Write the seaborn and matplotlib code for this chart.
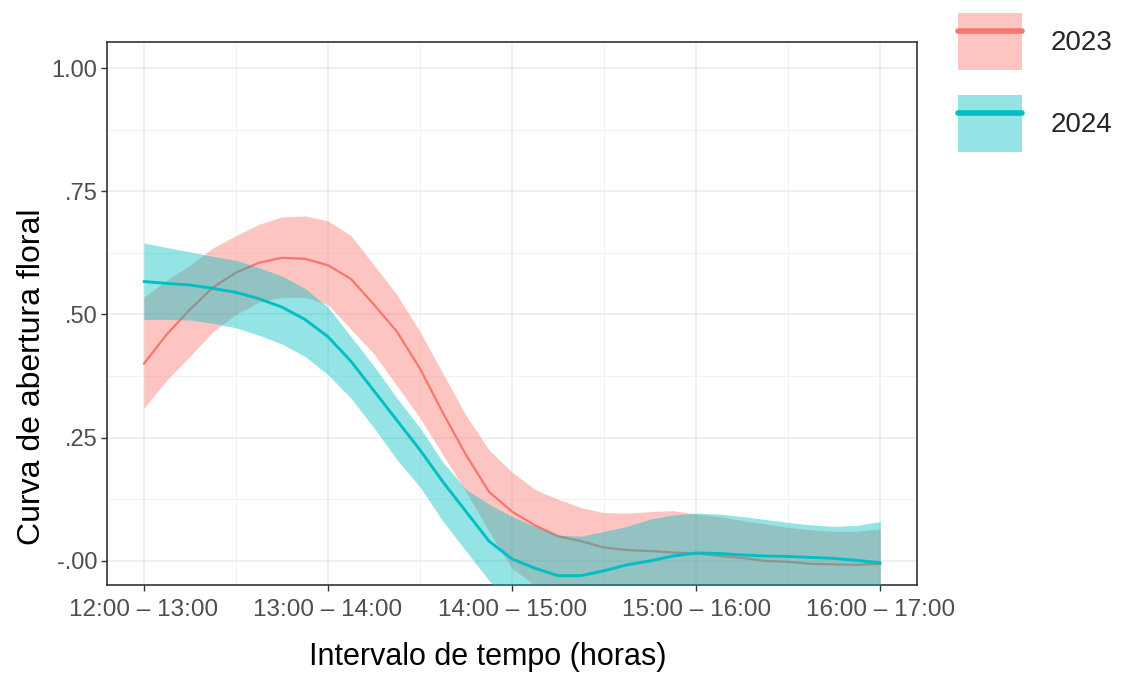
import matplotlib
matplotlib.use("Agg")
import matplotlib.pyplot as plt
import seaborn as sns
import pandas as pd
from matplotlib.patches import Patch
from matplotlib.lines import Line2D

# interval labels and positions along the time axis
intervals = ["12:00 – 13:00", "13:00 – 14:00", "14:00 – 15:00", "15:00 – 16:00", "16:00 – 17:00"]
x_pos = [1.0, 1.125, 1.25, 1.375, 1.5, 1.625, 1.75, 1.875,
         2.0, 2.125, 2.25, 2.375, 2.5, 2.625, 2.75, 2.875,
         3.0, 3.125, 3.25, 3.375, 3.5, 3.625, 3.75, 3.875,
         4.0, 4.125, 4.25, 4.375, 4.5, 4.625, 4.75, 4.875, 5.0]

# 2023 smooth fit and confidence band
fit_2023 = [0.40, 0.46, 0.51, 0.555, 0.585, 0.605, 0.615, 0.613,
            0.60, 0.572, 0.52, 0.465, 0.39, 0.30, 0.215, 0.14,
            0.10, 0.072, 0.05, 0.04, 0.027, 0.022, 0.02, 0.017,
            0.015, 0.01, 0.006, 0.0, -0.002, -0.006, -0.007, -0.008, -0.006]
lo_2023 = [0.31, 0.367, 0.415, 0.465, 0.50, 0.525, 0.535, 0.535,
           0.52, 0.47, 0.42, 0.355, 0.29, 0.215, 0.14, 0.06,
           -0.015, -0.05, -0.08, -0.10, -0.10, -0.10, -0.10, -0.10,
           -0.10, -0.10, -0.10, -0.10, -0.10, -0.10, -0.10, -0.10, -0.10]
hi_2023 = [0.535, 0.57, 0.60, 0.635, 0.66, 0.683, 0.698, 0.70,
           0.69, 0.66, 0.60, 0.54, 0.465, 0.38, 0.295, 0.225,
           0.18, 0.145, 0.125, 0.108, 0.098, 0.097, 0.10, 0.102,
           0.095, 0.09, 0.082, 0.075, 0.068, 0.063, 0.06, 0.06, 0.065]

# 2024 smooth fit and confidence band
fit_2024 = [0.567, 0.563, 0.56, 0.553, 0.545, 0.532, 0.515, 0.49,
            0.455, 0.405, 0.345, 0.285, 0.225, 0.16, 0.10, 0.04,
            0.004, -0.015, -0.03, -0.03, -0.02, -0.008, 0.0, 0.01,
            0.016, 0.015, 0.012, 0.01, 0.009, 0.007, 0.005, 0.001, -0.004]
lo_2024 = [0.49, 0.49, 0.489, 0.482, 0.473, 0.458, 0.44, 0.415,
           0.378, 0.33, 0.27, 0.205, 0.15, 0.08, 0.02, -0.04,
           -0.09, -0.12, -0.12, -0.12, -0.12, -0.12, -0.12, -0.12,
           -0.12, -0.12, -0.12, -0.12, -0.12, -0.12, -0.12, -0.12, -0.12]
hi_2024 = [0.645, 0.636, 0.627, 0.618, 0.61, 0.595, 0.578, 0.553,
           0.515, 0.455, 0.395, 0.33, 0.27, 0.20, 0.145, 0.115,
           0.09, 0.07, 0.052, 0.05, 0.06, 0.07, 0.085, 0.093,
           0.097, 0.095, 0.09, 0.084, 0.078, 0.073, 0.07, 0.072, 0.08]

years = ["2023", "2024"]
colors = ["#F8766D", "#00BFC4"]

sns.set_theme(style="white")
plt.rcParams['font.family'] = ['Liberation Sans', 'DejaVu Sans']

fig = plt.figure(figsize=(11.21, 6.84), dpi=100)
ax = fig.add_axes([0.0955, 0.1447, 0.7226, 0.7939])

series = [(fit_2023, lo_2023, hi_2023, 1.6), (fit_2024, lo_2024, hi_2024, 2.1)]
for i, (fit, lo, hi, lw) in enumerate(series):
    z = 2 + i
    ax.fill_between(x_pos, lo, hi, color=colors[i], alpha=0.42, lw=0, zorder=z)
    sns.lineplot(x=x_pos, y=fit, color=colors[i], linewidth=lw, ax=ax, zorder=z + 0.5)

ax.set_xlim(0.8, 5.2)
ax.set_ylim(-0.049, 1.053)
ax.set_xticks([1, 2, 3, 4, 5])
ax.set_xticklabels(intervals)
ax.set_xticks([1.5, 2.5, 3.5, 4.5], minor=True)
ax.set_yticks([0, 0.25, 0.5, 0.75, 1.0])
ax.set_yticklabels(["-.00", ".25", ".50", ".75", "1.00"])
ax.set_yticks([0.125, 0.375, 0.625, 0.875], minor=True)

ax.set_axisbelow(True)
ax.grid(which='major', color='#EBEBEB', linewidth=1.1)
ax.grid(which='minor', color='#F2F2F2', linewidth=0.8)
for s in ax.spines.values():
    s.set_color('#333333')
    s.set_linewidth(1.2)

ax.tick_params(axis='both', which='major', length=4, width=1, color='#333333',
               labelcolor='#4D4D4D', bottom=True, left=True)
ax.tick_params(axis='x', labelsize=17.5, pad=6)
ax.tick_params(axis='y', labelsize=17, pad=3)
ax.tick_params(which='minor', length=0)

ax.set_xlabel("Intervalo de tempo (horas)", fontsize=22, color='black')
ax.set_ylabel("Curva de abertura floral", fontsize=23, color='black')
ax.xaxis.set_label_coords(0.47, -0.105)
ax.yaxis.set_label_coords(-0.074, 0.383)

handles = [(Patch(facecolor=c, alpha=0.42, lw=0), Line2D([], [], color=c, lw=4)) for c in colors]
ax.legend(handles=handles, labels=years, loc='upper left',
          bbox_to_anchor=(0.8546, 0.981), bbox_transform=fig.transFigure,
          frameon=False, fontsize=20, handlelength=2.3, handleheight=2.77,
          labelspacing=0.9, handletextpad=1.05, borderpad=0, borderaxespad=0)

fig.savefig("out.png", dpi=100)
